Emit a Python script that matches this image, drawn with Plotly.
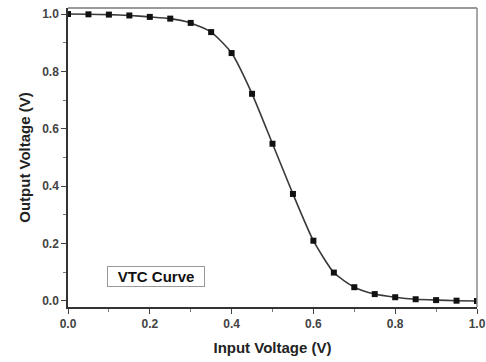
import plotly.graph_objects as go

# Voltage transfer characteristic of the inverter
vin = [0.00, 0.05, 0.10, 0.15, 0.20, 0.25, 0.30, 0.35, 0.40, 0.45, 0.50,
       0.55, 0.60, 0.65, 0.70, 0.75, 0.80, 0.85, 0.90, 0.95, 1.00]
vout = [1.000, 0.999, 0.998, 0.995, 0.990, 0.984, 0.969, 0.937, 0.864, 0.722, 0.548,
        0.373, 0.210, 0.099, 0.048, 0.024, 0.013, 0.006, 0.003, 0.001, 0.000]

x_ticks = [0.0, 0.2, 0.4, 0.6, 0.8, 1.0]
y_ticks = [0.0, 0.2, 0.4, 0.6, 0.8, 1.0]
legend_text = "VTC Curve"

FONT = "Liberation Sans, Arial, sans-serif"

fig = go.Figure()
fig.add_trace(go.Scatter(
    x=vin, y=vout, mode="lines+markers",
    line=dict(color="#3a3a3a", width=1.6, shape="spline", smoothing=0.6),
    marker=dict(symbol="square", size=6, color="#111111"),
    showlegend=False,
))

axis_common = dict(
    showgrid=False, zeroline=False, showline=True, automargin=False,
    linecolor="#333333", linewidth=1.5,
    ticks="outside", ticklen=5, tickwidth=1.2, tickcolor="#444444",
    tickfont=dict(family=FONT, size=12, color="#444444", weight="bold"),
    minor=dict(ticks="outside", ticklen=3, tickwidth=1, tickcolor="#777777", dtick=0.1),
)

fig.update_xaxes(
    range=[0, 1.0], tickvals=x_ticks, ticktext=[f"{v:.1f}" for v in x_ticks],
    title=dict(text="<b>Input Voltage (V)</b>", font=dict(family=FONT, size=15, color="#222222"),
               standoff=12),
    **axis_common,
)
fig.update_yaxes(
    range=[-0.021, 1.021], tickvals=y_ticks, ticktext=[f"{v:.1f}" for v in y_ticks],
    title=dict(text="<b>Output Voltage (V)</b>", font=dict(family=FONT, size=15, color="#222222"),
               standoff=8),
    **axis_common,
)

# Top and right frame lines
fig.add_shape(type="line", xref="paper", yref="paper", x0=0, x1=1, y0=1, y1=1,
              line=dict(color="#9a9a9a", width=2.2))
fig.add_shape(type="line", xref="paper", yref="paper", x0=1, x1=1, y0=0, y1=1,
              line=dict(color="#8a8a8a", width=1.5))

# Boxed label
fig.add_annotation(
    x=0.215, y=0.084, xref="x", yref="y", text=f"<b>{legend_text}</b>",
    showarrow=False, font=dict(family=FONT, size=15, color="#111111"),
    bordercolor="#999999", borderwidth=1, borderpad=1, width=94, height=17,
    bgcolor="white",
)

fig.update_layout(
    width=486, height=362,
    margin=dict(l=68, r=9, t=8, b=55),
    paper_bgcolor="white", plot_bgcolor="white",
)

fig.write_html("out.html")
